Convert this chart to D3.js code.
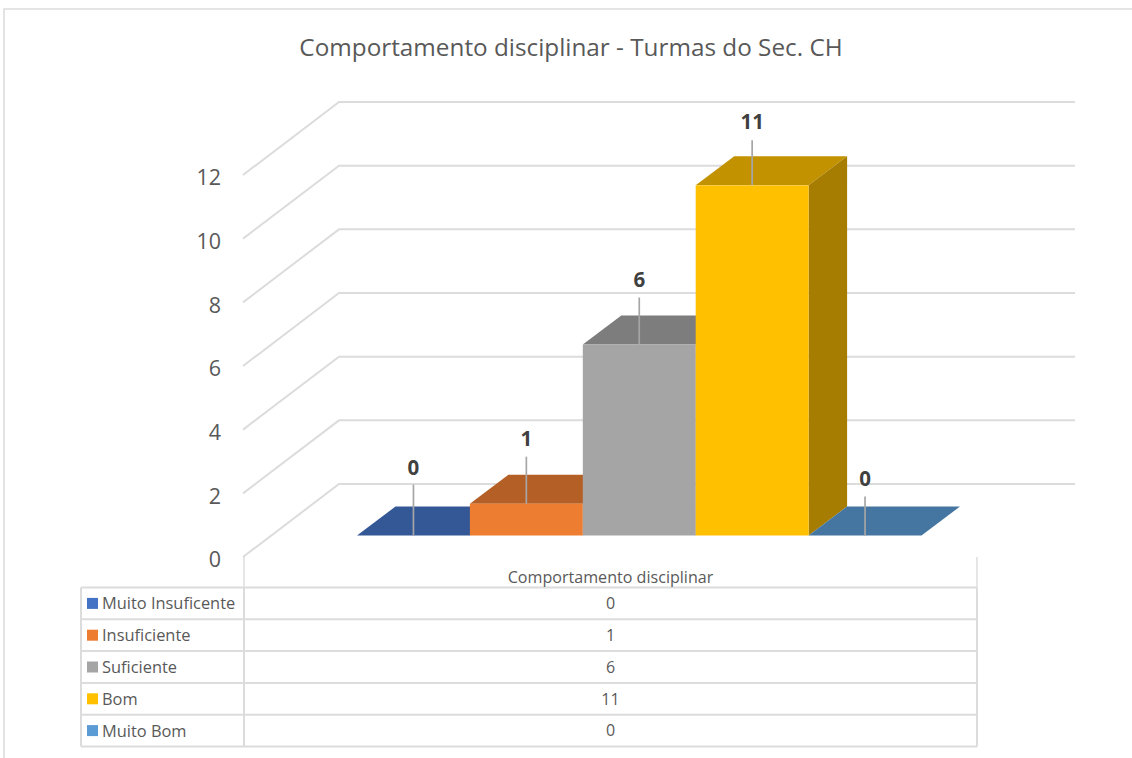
<!DOCTYPE html>
<html>
<head>
<meta charset="utf-8">
<style>
  body { margin: 0; background: #fff; }
  text { font-family: "Open Sans", "Noto Sans", sans-serif; fill: #595959; }
</style>
</head>
<body>
<div id="chart"></div>
<script src="https://d3js.org/d3.v7.min.js"></script>
<script>
const title = "Comportamento disciplinar - Turmas do Sec. CH";
const seriesName = "Comportamento disciplinar";
const categories = ["Muito Insuficente", "Insuficiente", "Suficiente", "Bom", "Muito Bom"];
const values = [0, 1, 6, 11, 0];
const yTicks = [0, 2, 4, 6, 8, 10, 12];
const colors = ["#4472C4", "#ED7D31", "#A5A5A5", "#FFC000", "#5B9BD5"];

const width = 1132, height = 758;
const grid = "#dcdcdc";

const svg = d3.select("#chart").append("svg")
    .attr("width", width)
    .attr("height", height)
    .style("display", "block");

// chart border
svg.append("path")
    .attr("d", "M4,758V9H1132")
    .attr("fill", "none")
    .attr("stroke", grid)
    .attr("stroke-width", 1.6);

svg.append("text")
    .attr("x", 571)
    .attr("y", 56)
    .attr("text-anchor", "middle")
    .style("font-size", "24.3px")
    .text(title);

// front edge of the floor, wall sits behind it
const y = d3.scaleLinear().domain([0, 12]).range([557, 175]);
const wallDx = 96, wallDy = -73;
const wallRight = 1075;

// axis with the labels only
const axis = svg.append("g")
    .attr("transform", "translate(221,0)")
    .call(d3.axisLeft(y).tickValues(yTicks).tickSize(0).tickPadding(0));
axis.select(".domain").remove();
axis.selectAll("text")
    .attr("dy", "0.45em")
    .style("font-size", "21.5px");

const gridG = svg.append("g")
    .attr("fill", "none")
    .attr("stroke", grid)
    .attr("stroke-width", 2);
gridG.selectAll("path")
    .data(yTicks)
    .join("path")
    .attr("d", d => `M243,${y(d)}L${243 + wallDx},${y(d) + wallDy}H${wallRight}`);

// bars
const x = d3.scaleBand().domain(categories).range([357, 921.5]);
const barBase = -21.5, depthX = 38.5, depthY = -29;
const shade = (c, k) => {
    const r = d3.rgb(c);
    return d3.rgb(r.r * k, r.g * k, r.b * k).formatHex();
};

const bars = svg.append("g").selectAll("g")
    .data(categories.map((c, i) => ({ name: c, value: values[i], color: colors[i] })))
    .join("g");

// top face (the only face when the value is 0)
bars.append("path")
    .attr("fill", d => shade(d.color, 0.76))
    .attr("d", d => {
        const l = x(d.name), r = l + x.bandwidth(), t = y(d.value) + barBase;
        return `M${l},${t}L${l + depthX},${t + depthY}H${r + depthX}L${r},${t}Z`;
    });
bars.filter(d => d.value > 0).append("path")
    .attr("fill", d => shade(d.color, 0.65))
    .attr("d", d => {
        const r = x(d.name) + x.bandwidth(), t = y(d.value) + barBase, b = y(0) + barBase;
        return `M${r},${t}L${r + depthX},${t + depthY}V${b + depthY}L${r},${b}Z`;
    });
bars.filter(d => d.value > 0).append("rect")
    .attr("fill", d => d.color)
    .attr("x", d => x(d.name))
    .attr("y", d => y(d.value) + barBase)
    .attr("width", x.bandwidth())
    .attr("height", d => y(0) - y(d.value));

// leader lines and data labels
const leaderLen = [51, 47, 47, 45, 39];
const labelGap = [16, 17, 17, 18, 17];
bars.append("line")
    .attr("stroke", "#a6a6a6")
    .attr("stroke-width", 1.7)
    .attr("x1", d => x(d.name) + x.bandwidth() / 2)
    .attr("x2", d => x(d.name) + x.bandwidth() / 2)
    .attr("y1", d => y(d.value) + barBase)
    .attr("y2", (d, i) => y(d.value) + barBase - leaderLen[i]);
bars.append("text")
    .attr("x", d => x(d.name) + x.bandwidth() / 2)
    .attr("y", (d, i) => y(d.value) + barBase - leaderLen[i] - labelGap[i] - 1)
    .attr("dy", "0.36em")
    .attr("text-anchor", "middle")
    .style("font-size", "20.5px")
    .style("font-weight", 700)
    .style("fill", "#404040")
    .text(d => d.value);

// data table
const tableLeft = 81, tableMid = 244, tableRight = 977;
const rows = d3.scaleBand().domain(categories).range([587.5, 746.5]);
const table = svg.append("g");
const tableLines = table.append("g")
    .attr("stroke", grid)
    .attr("stroke-width", 2);
tableLines.selectAll(".h")
    .data([...categories.map(c => rows(c)), rows.range()[1]])
    .join("line")
    .attr("class", "h")
    .attr("x1", tableLeft).attr("x2", tableRight)
    .attr("y1", d => d).attr("y2", d => d);
[tableLeft, tableMid, tableRight].forEach(px => {
    tableLines.append("line")
        .attr("x1", px).attr("x2", px)
        .attr("y1", 587.5)
        .attr("y2", 746.5);
});
// short ticks above the table, thinner
[tableMid, tableRight].forEach(px => {
    tableLines.append("line")
        .attr("stroke-width", 1.4)
        .attr("x1", px).attr("x2", px)
        .attr("y1", 557)
        .attr("y2", 587.5);
});

table.append("text")
    .attr("x", (tableMid + tableRight) / 2)
    .attr("y", 577)
    .attr("dy", "0.36em")
    .attr("text-anchor", "middle")
    .style("font-size", "16.1px")
    .text(seriesName);

const row = table.selectAll(".row")
    .data(categories)
    .join("g")
    .attr("class", "row")
    .attr("transform", d => `translate(0,${rows(d) + rows.bandwidth() / 2})`);
row.append("rect")
    .attr("x", 87).attr("y", -5.5)
    .attr("width", 11).attr("height", 11)
    .attr("fill", (d, i) => colors[i]);
row.append("text")
    .attr("x", 102)
    .attr("dy", "0.36em")
    .style("font-size", "16.4px")
    .text(d => d);
row.append("text")
    .attr("x", (tableMid + tableRight) / 2)
    .attr("dy", "0.36em")
    .attr("text-anchor", "middle")
    .style("font-size", "16px")
    .text((d, i) => values[i]);
</script>
</body>
</html>
